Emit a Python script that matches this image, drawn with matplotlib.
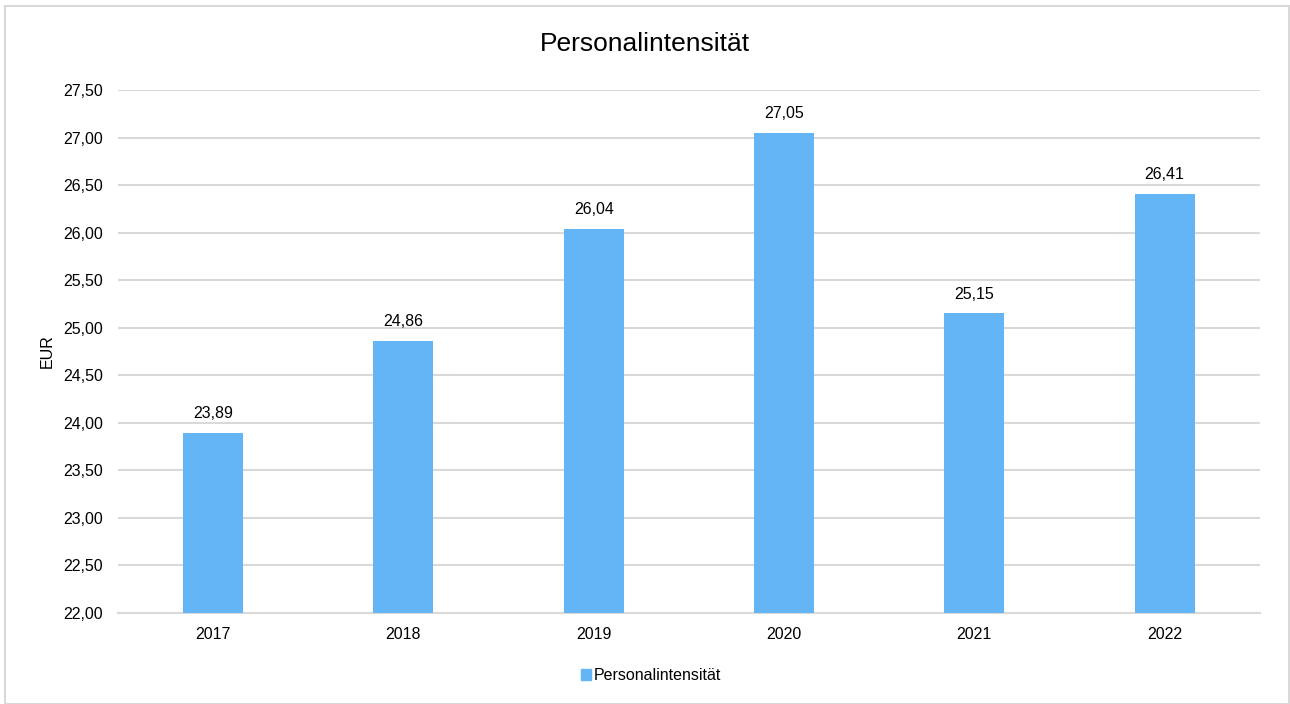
import matplotlib
matplotlib.use("Agg")
import matplotlib.pyplot as plt
from matplotlib.patches import Rectangle
from matplotlib.ticker import FixedLocator, FuncFormatter

plt.rcParams['font.family'] = ['Liberation Sans', 'DejaVu Sans']

years = ['2017', '2018', '2019', '2020', '2021', '2022']
values = [23.89, 24.86, 26.04, 27.05, 25.15, 26.41]
series_name = 'Personalintensität'
yticks = [22.0, 22.5, 23.0, 23.5, 24.0, 24.5, 25.0, 25.5, 26.0, 26.5, 27.0, 27.5]

bar_color = '#63B5F5'
grid_color = '#D9D9D9'
text_color = '#000000'
fs = 11.5

fig = plt.figure(figsize=(12.9, 7.04), dpi=100)
ax = fig.add_axes([0.0915, 0.1293, 0.885, 0.7429])

x = range(len(years))
bars = ax.bar(x, values, width=0.315, color=bar_color, label=series_name, zorder=3)
for xi, v in zip(x, values):
    ax.annotate(f"{v:.2f}".replace('.', ','), (xi, v), xytext=(0, 8.5),
                textcoords='offset points', ha='center', va='bottom',
                fontsize=fs, color=text_color)

ax.set_xlim(-0.5, len(years) - 0.5)
ax.set_ylim(22.0, 27.5)
ax.yaxis.set_major_locator(FixedLocator(yticks))
ax.yaxis.set_major_formatter(FuncFormatter(lambda v, p: f"{v:.2f}".replace('.', ',')))
ax.set_xticks(list(x))
ax.set_xticklabels(years)
ax.tick_params(axis='both', length=0, labelsize=fs, colors=text_color)
ax.tick_params(axis='y', pad=11)
ax.tick_params(axis='x', pad=10)
ax.grid(axis='y', color=grid_color, linewidth=1.5, zorder=0)
for s in ['top', 'right', 'left']:
    ax.spines[s].set_visible(False)
ax.spines['bottom'].set_color(grid_color)
ax.spines['bottom'].set_linewidth(1.5)
ax.set_ylabel('EUR', fontsize=fs, labelpad=8)
ax.yaxis.set_label_coords(-0.0556, 0.5)

fig.suptitle(series_name, x=0.5, y=0.9375, fontsize=19, color=text_color, va='center')

leg = fig.legend(handles=[Rectangle((0, 0), 1, 1, color=bar_color)], labels=[series_name],
                 loc='center', bbox_to_anchor=(0.5047, 0.04), frameon=False,
                 fontsize=fs, handlelength=0.65, handleheight=0.65, handletextpad=0.2)

fig.patches.append(Rectangle((0.0035, 0.0), 0.9955, 0.9915, transform=fig.transFigure,
                             fill=False, edgecolor=grid_color, linewidth=1.5))

fig.savefig('out.png', dpi=100)
